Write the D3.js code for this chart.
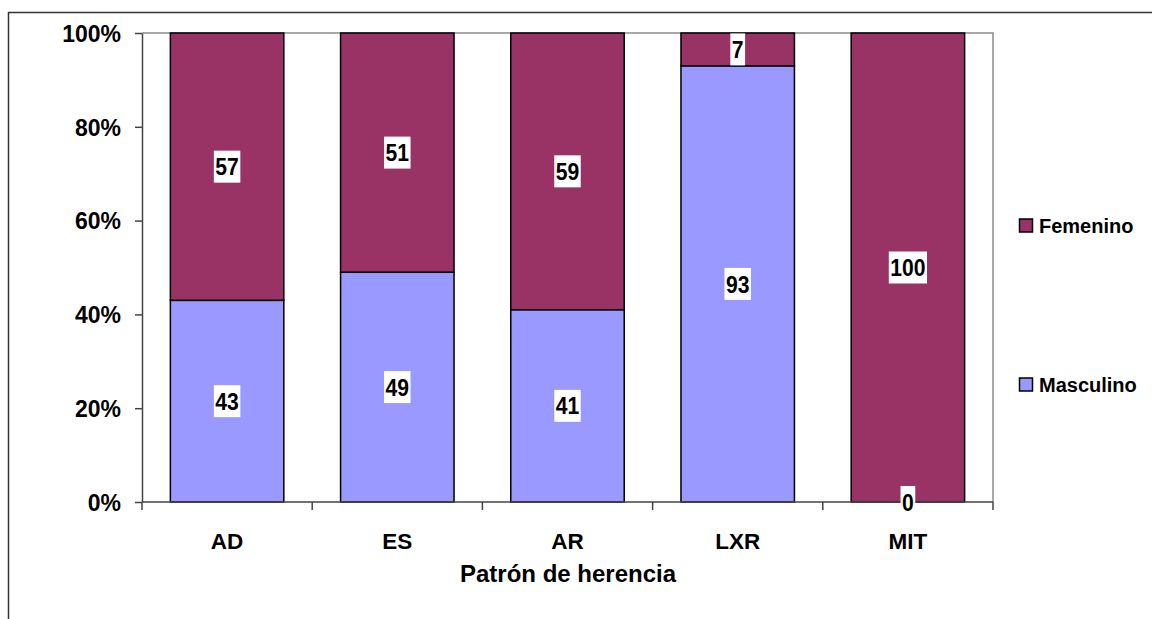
<!DOCTYPE html>
<html>
<head>
<meta charset="utf-8">
<script src="https://cdn.jsdelivr.net/npm/d3@7"></script>
<style>
  html, body { margin: 0; padding: 0; background: #fff; }
  svg { display: block; font-family: "Liberation Sans", Arial, sans-serif; }
</style>
</head>
<body>
<svg id="chart" width="1152" height="619"></svg>
<script>
// Inheritance pattern by sex (percent of cases)
const categories = ["AD", "ES", "AR", "LXR", "MIT"];
const masculino = [43, 49, 41, 93, 0];
const femenino = [57, 51, 59, 7, 100];
const seriesNames = ["Masculino", "Femenino"];
const seriesColors = ["#9999FF", "#993366"];
const yTicks = [0, 20, 40, 60, 80, 100];
const axisTitle = "Patrón de herencia";

const rows = categories.map((c, i) => ({ cat: c, Masculino: masculino[i], Femenino: femenino[i] }));

const svg = d3.select("#chart");
const plot = { left: 142, right: 993, top: 33, bottom: 502 };

// Outer chart frame
svg.append("rect")
  .attr("x", 8.5).attr("y", 12.5)
  .attr("width", 1300).attr("height", 800)
  .attr("fill", "none").attr("stroke", "#333").attr("stroke-width", 1.5);

const x = d3.scaleBand()
  .domain(categories)
  .range([plot.left, plot.right])
  .paddingInner(1 / 3)
  .paddingOuter(1 / 6);

const y = d3.scaleLinear().domain([0, 100]).range([plot.bottom, plot.top]);

const color = d3.scaleOrdinal().domain(seriesNames).range(seriesColors);

// Plot-area border (top and right)
svg.append("path")
  .attr("d", `M${plot.left},${plot.top}H${plot.right}V${plot.bottom}`)
  .attr("fill", "none").attr("stroke", "#8c8c8c").attr("stroke-width", 1.5);

const stack = d3.stack().keys(seriesNames);
const stacked = stack(rows);

// Bars
svg.append("g").selectAll("g")
  .data(stacked)
  .join("g")
  .attr("fill", d => color(d.key))
  .selectAll("rect")
  .data(d => d)
  .join("rect")
  .attr("x", d => x(d.data.cat))
  .attr("width", x.bandwidth())
  .attr("y", d => y(d[1]))
  .attr("height", d => y(d[0]) - y(d[1]))
  .attr("stroke", "#000")
  .attr("stroke-width", 1.5);

// Y axis
const yAxis = svg.append("g")
  .attr("transform", `translate(${plot.left},0)`)
  .call(d3.axisLeft(y).tickValues(yTicks).tickFormat(d => d + "%").tickSize(7).tickSizeOuter(0).tickPadding(14));
yAxis.select(".domain").attr("stroke", "#444").attr("stroke-width", 1.5);
yAxis.selectAll(".tick line").attr("stroke", "#444").attr("stroke-width", 1.5);
yAxis.selectAll(".tick text")
  .attr("font-size", 23).attr("font-weight", "bold").attr("fill", "#000")
  .attr("font-family", "Liberation Sans, Arial, sans-serif")
  .attr("dy", "0.36em");

// X axis line and ticks at category boundaries
svg.append("line")
  .attr("x1", plot.left).attr("x2", plot.right)
  .attr("y1", plot.bottom).attr("y2", plot.bottom)
  .attr("stroke", "#444").attr("stroke-width", 1.5);
d3.range(categories.length + 1).forEach(i => {
  const bx = x.range()[0] + i * x.step();
  svg.append("line")
    .attr("x1", bx).attr("x2", bx)
    .attr("y1", plot.bottom).attr("y2", plot.bottom + 8)
    .attr("stroke", "#444").attr("stroke-width", 1.5);
});

svg.append("g").selectAll("text")
  .data(categories)
  .join("text")
  .attr("x", d => x(d) + x.bandwidth() / 2)
  .attr("y", 549)
  .attr("text-anchor", "middle")
  .attr("font-size", 22.5).attr("font-weight", "bold")
  .text(d => d);

svg.append("text")
  .attr("x", (plot.left + plot.right) / 2 + 0.5)
  .attr("y", 582)
  .attr("text-anchor", "middle")
  .attr("font-size", 24).attr("font-weight", "bold")
  .text(axisTitle);

// Value labels on white boxes (slightly condensed, tall digits)
const labelLayer = svg.append("g");
const sx = 0.88;
stacked.forEach(s => {
  s.forEach(d => {
    const v = d[1] - d[0];
    const cx = x(d.data.cat) + x.bandwidth() / 2;
    const cy = y((d[0] + d[1]) / 2);
    const g = labelLayer.append("g").attr("transform", `translate(${cx},${cy})`);
    const t = g.append("text")
      .attr("transform", `scale(${sx},1)`)
      .attr("dy", "0.36em")
      .attr("text-anchor", "middle")
      .attr("font-size", 24).attr("font-weight", "bold")
      .attr("fill", "#000")
      .text(v);
    const w = t.node().getComputedTextLength() * sx + 3;
    g.insert("rect", "text")
      .attr("x", -w / 2).attr("y", -16)
      .attr("width", w).attr("height", 32)
      .attr("fill", "#fff");
  });
});

// Legend
const legendItems = [
  { name: "Femenino", y: 226 },
  { name: "Masculino", y: 385 }
];
const legend = svg.append("g");
legendItems.forEach(it => {
  legend.append("rect")
    .attr("x", 1019.5).attr("y", it.y - 7)
    .attr("width", 13).attr("height", 13)
    .attr("fill", color(it.name))
    .attr("stroke", "#000").attr("stroke-width", 1.5);
  legend.append("text")
    .attr("x", 1039).attr("y", it.y + 7)
    .attr("font-size", 20).attr("font-weight", "bold")
    .text(it.name);
});
</script>
</body>
</html>
